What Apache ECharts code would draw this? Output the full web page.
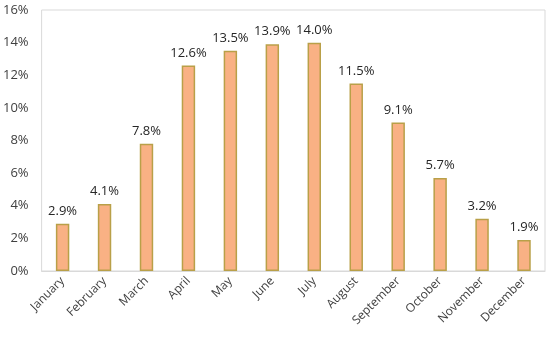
<!DOCTYPE html>
<html><head><meta charset="utf-8">
<script src="https://cdn.jsdelivr.net/npm/echarts@6/dist/echarts.min.js"></script>
<style>html,body{margin:0;padding:0;background:#fff}#c{width:550px;height:337px}</style>
</head><body><div id="c"></div>
<script>
const categories = ["January","February","March","April","May","June","July","August","September","October","November","December"];
const values = [2.9, 4.1, 7.8, 12.6, 13.5, 13.9, 14.0, 11.5, 9.1, 5.7, 3.2, 1.9];
const yTicks = [0, 2, 4, 6, 8, 10, 12, 14, 16];

const chart = echarts.init(document.getElementById('c'));
chart.setOption({
  animation: false,
  grid: {left: 41, right: 5, top: 10, bottom: 66, show: true, borderColor: '#d9d9d9', borderWidth: 1},
  xAxis: {
    type: 'category', data: categories,
    axisLine: {show: true, lineStyle: {color: '#d9d9d9'}},
    axisTick: {show: false},
    axisLabel: {rotate: 45, color: '#404040', fontSize: 12, fontFamily: 'Open Sans', interval: 0, margin: 8}
  },
  yAxis: {
    type: 'value', min: yTicks[0], max: yTicks[yTicks.length-1], interval: 2,
    splitLine: {show: false},
    axisLine: {show: false}, axisTick: {show: false},
    axisLabel: {formatter: v => v + '%', color: '#404040', fontSize: 13, fontFamily: 'Open Sans', margin: 13}
  },
  series: [{
    type: 'bar', data: values, barWidth: '32%',
    itemStyle: {color: '#F9B184', borderColor: '#B9A048', borderWidth: 1.5},
    label: {show: true, position: 'top', formatter: p => p.value.toFixed(1) + '%', color: '#262626', fontSize: 13, fontFamily: 'Open Sans', distance: 6}
  }]
});
</script></body></html>
